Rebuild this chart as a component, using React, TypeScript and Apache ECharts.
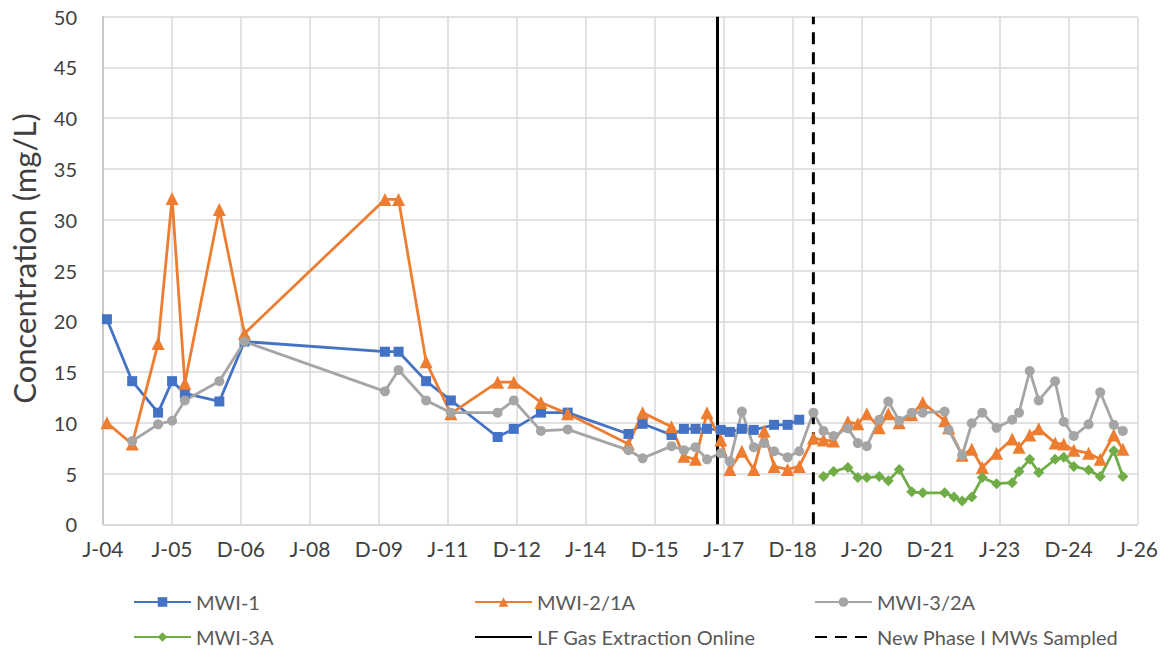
import React, { useEffect, useRef } from "react";
import * as echarts from "echarts";

// ---------- Data ----------
const tickLabels = ["J-04", "J-05", "D-06", "J-08", "D-09", "J-11", "D-12", "J-14", "D-15", "J-17", "D-18", "J-20", "D-21", "J-23", "D-24", "J-26"];
const TICK_STEP_DAYS = 546;
const AXIS_ORIGIN = "2004-01-01";

const mwi1Dates = ["2004-02-01", "2004-08-19", "2005-03-12", "2005-07-01", "2005-10-10", "2006-07-10", "2007-01-25", "2010-02-10", "2010-05-29", "2011-01-02", "2011-07-17", "2012-07-21", "2012-11-26", "2013-06-29", "2014-01-27", "2015-05-23", "2015-09-12", "2016-04-28", "2016-08-04", "2016-11-04", "2017-02-03", "2017-05-23", "2017-08-03", "2017-11-06", "2018-02-08", "2018-07-19", "2018-11-03", "2019-02-03"];
const mwi1Values = [20.2, 14.1, 11.0, 14.1, 12.9, 12.1, 18.0, 17.0, 17.0, 14.1, 12.2, 8.6, 9.4, 11.0, 11.0, 8.9, 9.9, 8.8, 9.4, 9.4, 9.4, 9.3, 9.1, 9.4, 9.3, 9.8, 9.8, 10.3];

const mwi2Dates = ["2004-02-01", "2004-08-19", "2005-03-12", "2005-07-01", "2005-10-10", "2006-07-10", "2007-01-25", "2010-02-10", "2010-05-29", "2011-01-02", "2011-07-17", "2012-07-21", "2012-11-26", "2013-06-29", "2014-01-27", "2015-05-23", "2015-09-12", "2016-04-28", "2016-08-04", "2016-11-04", "2017-02-03", "2017-05-23", "2017-08-03", "2017-11-06", "2018-02-08", "2018-05-01", "2018-07-19", "2018-11-03", "2019-02-03", "2019-05-26", "2019-08-14", "2019-11-02", "2020-02-23", "2020-05-12", "2020-07-22", "2020-10-28", "2021-01-08", "2021-04-05", "2021-07-13", "2021-10-08", "2022-03-30", "2022-05-01", "2022-08-16", "2022-10-31", "2023-01-22", "2023-05-15", "2023-09-16", "2023-11-09", "2024-02-02", "2024-04-13", "2024-08-21", "2024-10-28", "2025-01-16", "2025-05-13", "2025-08-13", "2025-11-28", "2026-02-08"];
const mwi2Values = [10.0, 7.9, 17.8, 32.1, 13.9, 31.0, 18.8, 32.0, 32.0, 16.0, 10.9, 14.0, 14.0, 12.0, 10.9, 7.9, 11.0, 9.6, 6.7, 6.4, 11.0, 8.3, 5.4, 7.2, 5.4, 9.2, 5.7, 5.4, 5.7, 8.5, 8.3, 8.2, 10.1, 9.9, 10.9, 9.5, 10.9, 10.0, 10.8, 12.0, 10.2, 9.5, 6.8, 7.4, 5.6, 7.0, 8.4, 7.6, 8.8, 9.4, 8.0, 7.9, 7.3, 7.0, 6.4, 8.8, 7.4];

const mwi3Dates = ["2004-08-19", "2005-03-12", "2005-07-01", "2005-10-10", "2006-07-10", "2007-01-25", "2010-02-10", "2010-05-29", "2011-01-02", "2011-07-17", "2012-07-21", "2012-11-26", "2013-06-29", "2014-01-27", "2015-05-23", "2015-09-12", "2016-04-28", "2016-08-04", "2016-11-04", "2017-02-03", "2017-05-23", "2017-08-03", "2017-11-06", "2018-02-08", "2018-05-01", "2018-07-19", "2018-11-03", "2019-02-03", "2019-05-26", "2019-08-14", "2019-11-02", "2020-02-23", "2020-05-12", "2020-07-22", "2020-10-28", "2021-01-08", "2021-04-05", "2021-07-13", "2021-10-08", "2022-03-30", "2022-05-01", "2022-08-16", "2022-10-31", "2023-01-22", "2023-05-15", "2023-09-16", "2023-11-09", "2024-02-02", "2024-04-13", "2024-08-21", "2024-10-28", "2025-01-16", "2025-05-13", "2025-08-13", "2025-11-28", "2026-02-08"];
const mwi3Values = [8.2, 9.85, 10.2, 12.2, 14.1, 18.0, 13.1, 15.2, 12.2, 11.0, 11.0, 12.2, 9.2, 9.35, 7.3, 6.5, 7.7, 7.3, 7.6, 6.4, 7.0, 6.2, 11.1, 7.6, 8.0, 7.2, 6.6, 7.2, 11.0, 9.2, 8.7, 9.45, 8.0, 7.7, 10.3, 12.1, 10.2, 11.0, 11.0, 11.1, 9.3, 6.8, 9.95, 11.0, 9.5, 10.3, 11.0, 15.1, 12.2, 14.1, 10.1, 8.7, 9.85, 13.0, 9.8, 9.2];

const mwi3aDates = ["2019-08-14", "2019-11-02", "2020-02-23", "2020-05-12", "2020-07-22", "2020-10-28", "2021-01-08", "2021-04-05", "2021-07-13", "2021-10-08", "2022-03-30", "2022-06-12", "2022-08-16", "2022-10-31", "2023-01-22", "2023-05-15", "2023-09-16", "2023-11-09", "2024-02-02", "2024-04-13", "2024-08-21", "2024-10-28", "2025-01-16", "2025-05-13", "2025-08-13", "2025-11-28", "2026-02-08"];
const mwi3aValues = [4.7, 5.2, 5.6, 4.6, 4.6, 4.7, 4.3, 5.4, 3.2, 3.1, 3.1, 2.7, 2.3, 2.7, 4.6, 4.0, 4.1, 5.2, 6.4, 5.1, 6.4, 6.6, 5.7, 5.35, 4.7, 7.25, 4.7];

const lfGasDate = "2017-04-27";
const newPhaseDate = "2019-05-26";
const verticalLineRange = [0, 50];

const seriesNames = ["MWI-1", "MWI-2/1A", "MWI-3/2A", "MWI-3A", "LF Gas Extraction Online", "New Phase I MWs Sampled"];

// ---------- Helpers ----------
const DAY_MS = 86400000;
const toDays = (d: string) => (Date.parse(d) - Date.parse(AXIS_ORIGIN)) / DAY_MS;
const pairs = (dates: string[], vals: number[]) => dates.map((d, i) => [toDays(d), vals[i]]);

const FONT = "Lato, 'Liberation Sans', sans-serif";

export default function App() {
  const ref = useRef<HTMLDivElement>(null);

  useEffect(() => {
    if (!ref.current) return;
    const chart = echarts.init(ref.current, undefined, { renderer: "svg" });

    const lineSeries = (name: string, dates: string[], vals: number[], color: string, symbol: string, size: number) => ({
      name,
      type: "line",
      data: pairs(dates, vals),
      symbol,
      symbolSize: size,
      showSymbol: true,
      itemStyle: { color },
      lineStyle: { color, width: 2.8 },
      emphasis: { disabled: true },
    });

    const vLine = (name: string, date: string, type: any) => ({
      name,
      type: "line",
      data: verticalLineRange.map((v) => [toDays(date), v]),
      symbol: "none",
      itemStyle: { color: "#000" },
      lineStyle: { color: "#000", width: 3, type },
      emphasis: { disabled: true },
    });

    const legendPos = [
      { left: 133, top: 592 },
      { left: 474, top: 592 },
      { left: 814, top: 592 },
      { left: 133, top: 627 },
      { left: 474, top: 627 },
      { left: 814, top: 627 },
    ];

    const option = {
      animation: false,
      textStyle: { fontFamily: FONT },
      grid: { left: 101.7, right: 31.5, top: 16.7, bottom: 130.7, containLabel: false },
      legend: seriesNames.map((n, i) => {
        const lg: any = {
          data: [n],
          left: legendPos[i].left,
          top: legendPos[i].top,
          padding: 0,
          itemWidth: 57,
          itemHeight: 12,
          itemGap: 0,
          selectedMode: false,
          textStyle: { fontSize: 20, color: "#595959", fontFamily: FONT, padding: [0, 0, 0, 0] },
        };
        if (i >= 4) lg.itemStyle = { opacity: 0 };
        return lg;
      }),
      xAxis: {
        type: "value",
        min: 0,
        max: TICK_STEP_DAYS * (tickLabels.length - 1),
        interval: TICK_STEP_DAYS,
        axisLine: { show: true, lineStyle: { color: "#d9d9d9", width: 1.5 } },
        axisTick: { show: false },
        splitLine: { show: true, lineStyle: { color: "#d9d9d9", width: 1.5 } },
        axisLabel: {
          color: "#404040",
          fontSize: 21,
          fontFamily: FONT,
          margin: 14,
          formatter: (v: number) => tickLabels[Math.round(v / TICK_STEP_DAYS)] ?? "",
        },
      },
      yAxis: {
        type: "value",
        min: 0,
        max: 50,
        interval: 5,
        name: "Concentration (mg/L)",
        nameLocation: "middle",
        nameGap: 64,
        nameTextStyle: { fontSize: 31, color: "#404040", fontFamily: FONT, padding: [0, 0, 0, 24] },
        axisLine: { show: true, lineStyle: { color: "#bfbfbf", width: 1.5 } },
        axisTick: { show: false },
        splitLine: { show: true, lineStyle: { color: "#d9d9d9", width: 1.5 } },
        axisLabel: { color: "#404040", fontSize: 20, fontFamily: FONT, margin: 26 },
      },
      series: [
        lineSeries("MWI-1", mwi1Dates, mwi1Values, "#4472C4", "rect", 10),
        lineSeries("MWI-2/1A", mwi2Dates, mwi2Values, "#ED7D31", "triangle", 13),
        lineSeries("MWI-3/2A", mwi3Dates, mwi3Values, "#A5A5A5", "circle", 10),
        lineSeries("MWI-3A", mwi3aDates, mwi3aValues, "#70AD47", "diamond", 11),
        vLine("LF Gas Extraction Online", lfGasDate, "solid"),
        vLine("New Phase I MWs Sampled", newPhaseDate, [12, 8]),
      ],
    };

    chart.setOption(option as any);
    return () => chart.dispose();
  }, []);

  return <div ref={ref} style={{ position: "fixed", left: 0, top: 0, width: 1169, height: 655, background: "#fff" }} />;
}
